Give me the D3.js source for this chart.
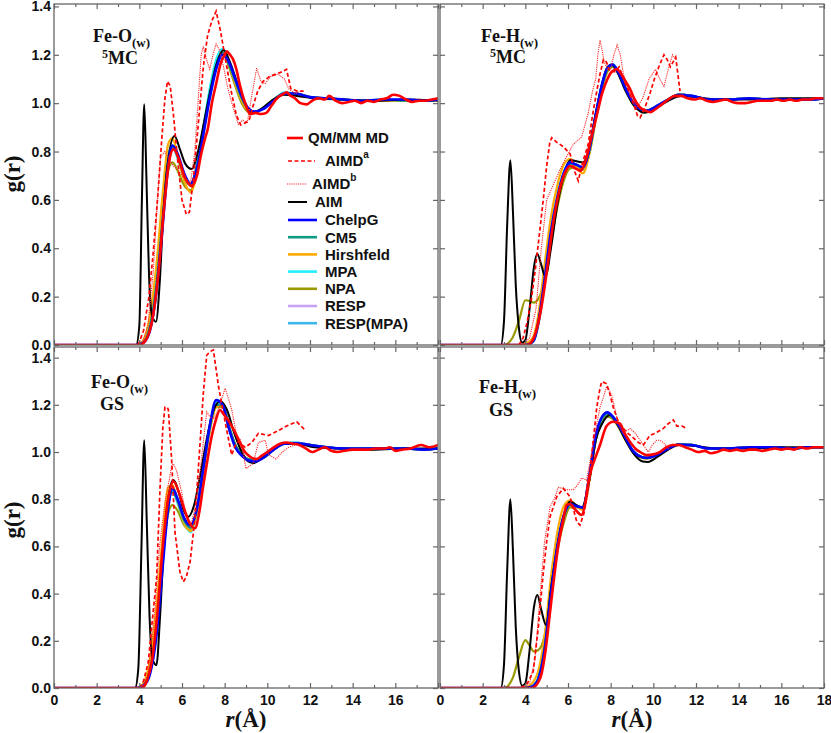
<!DOCTYPE html>
<html>
<head>
<meta charset="utf-8">
<script src="https://cdn.jsdelivr.net/npm/d3@7"></script>
<style>
  body { margin: 0; background: #fff; }
</style>
</head>
<body>
<div id="chart"></div>
<script>
// ---- data ----
var seriesNames = ["QM/MM MD", "AIMD", "AIMD", "AIM", "ChelpG", "CM5", "Hirshfeld", "MPA", "NPA", "RESP", "RESP(MPA)"];
var chargeNames = ["ChelpG", "CM5", "Hirshfeld", "MPA", "NPA", "RESP", "RESP(MPA)"];
var xTicks = [0, 2, 4, 6, 8, 10, 12, 14, 16, 18];
var yTicks = [0, 0.2, 0.4, 0.6, 0.8, 1.0, 1.2, 1.4];

// r grids shared by the charge-model curves
var gridO = [0, 3.9, 4.2, 4.5, 4.8, 5.1, 5.35, 5.55, 5.8, 6.1, 6.4, 6.7, 7.0, 7.3, 7.6, 7.9, 8.2, 8.5, 8.8, 9.1, 9.4, 9.8, 10.3, 10.8, 11.3, 12.0, 12.8, 13.6, 14.5, 15.5, 16.5, 17.3, 18];
var gridH = [0, 3.0, 3.4, 3.7, 4.0, 4.2, 4.4, 4.6, 4.9, 5.2, 5.5, 5.8, 6.1, 6.4, 6.7, 7.0, 7.3, 7.6, 7.85, 8.1, 8.4, 8.7, 9.0, 9.3, 9.7, 10.1, 10.6, 11.2, 11.8, 12.6, 13.5, 14.5, 15.5, 16.5, 17.3, 18];

// Fe-O(w) 5MC
var chargeA = [
  [0, 0, 0.01, 0.06, 0.22, 0.5, 0.74, 0.825, 0.79, 0.71, 0.668, 0.73, 0.87, 1.02, 1.14, 1.2, 1.17, 1.1, 1.03, 0.98, 0.965, 0.975, 1.01, 1.04, 1.04, 1.025, 1.02, 1.015, 1.01, 1.015, 1.015, 1.01, 1.015],
  [0, 0, 0.012, 0.08, 0.25, 0.53, 0.755, 0.82, 0.78, 0.7, 0.665, 0.74, 0.89, 1.04, 1.16, 1.21, 1.16, 1.09, 1.02, 0.975, 0.965, 0.98, 1.015, 1.04, 1.04, 1.025, 1.02, 1.015, 1.01, 1.015, 1.01, 1.01, 1.015],
  [0, 0, 0.02, 0.12, 0.33, 0.63, 0.83, 0.855, 0.78, 0.68, 0.632, 0.71, 0.87, 1.03, 1.15, 1.21, 1.16, 1.08, 1.01, 0.97, 0.965, 0.98, 1.015, 1.04, 1.04, 1.025, 1.02, 1.015, 1.01, 1.01, 1.01, 1.01, 1.015],
  [0, 0, 0.015, 0.1, 0.28, 0.57, 0.78, 0.82, 0.77, 0.69, 0.66, 0.745, 0.9, 1.06, 1.18, 1.225, 1.17, 1.09, 1.02, 0.975, 0.965, 0.98, 1.015, 1.045, 1.04, 1.025, 1.02, 1.015, 1.01, 1.015, 1.01, 1.01, 1.015],
  [0, 0, 0.02, 0.11, 0.3, 0.56, 0.72, 0.755, 0.72, 0.66, 0.64, 0.72, 0.88, 1.05, 1.17, 1.21, 1.15, 1.07, 1.0, 0.965, 0.96, 0.98, 1.015, 1.04, 1.04, 1.025, 1.02, 1.015, 1.01, 1.01, 1.01, 1.01, 1.015],
  [0, 0, 0.01, 0.08, 0.25, 0.53, 0.75, 0.815, 0.78, 0.7, 0.665, 0.74, 0.885, 1.035, 1.155, 1.21, 1.165, 1.09, 1.02, 0.975, 0.965, 0.98, 1.015, 1.04, 1.04, 1.025, 1.02, 1.015, 1.01, 1.015, 1.01, 1.01, 1.015],
  [0, 0, 0.012, 0.09, 0.27, 0.55, 0.77, 0.825, 0.785, 0.7, 0.665, 0.745, 0.895, 1.045, 1.165, 1.215, 1.165, 1.09, 1.02, 0.975, 0.965, 0.98, 1.015, 1.04, 1.04, 1.025, 1.02, 1.015, 1.01, 1.015, 1.01, 1.01, 1.015]
];
var qmmmA = [[0,0],[4.0,0],[4.3,0.02],[4.6,0.1],[4.9,0.3],[5.15,0.56],[5.4,0.76],[5.6,0.81],[5.85,0.77],[6.1,0.7],[6.45,0.658],[6.7,0.7],[6.9,0.79],[7.1,0.86],[7.2,0.89],[7.4,1.0],[7.6,1.08],[7.8,1.16],[8.0,1.2],[8.1,1.214],[8.25,1.2],[8.4,1.18],[8.55,1.14],[8.7,1.08],[8.85,1.03],[9.0,0.99],[9.2,0.954],[9.45,0.96],[9.7,0.955],[9.95,0.96],[10.2,0.99],[10.45,1.02],[10.7,1.035],[10.9,1.045],[11.1,1.03],[11.3,1.02],[11.55,1.0],[11.85,0.995],[12.1,1.01],[12.4,1.02],[12.7,1.015],[12.9,1.03],[13.2,1.01],[13.5,1.0],[13.8,1.005],[14.1,1.01],[14.4,1.0],[14.7,1.01],[15.0,1.005],[15.3,1.015],[15.6,1.02],[15.9,1.035],[16.2,1.03],[16.5,1.015],[16.8,1.005],[17.1,1.01],[17.4,1.01],[17.7,1.015],[18,1.02]];
var aimdaA = [[3.95,0],[4.2,0.06],[4.45,0.2],[4.65,0.38],[4.85,0.6],[5.05,0.85],[5.2,1.02],[5.32,1.09],[5.45,1.07],[5.6,0.95],[5.8,0.76],[6.0,0.6],[6.2,0.54],[6.35,0.55],[6.55,0.7],[6.8,0.95],[7.0,1.15],[7.2,1.28],[7.4,1.34],[7.6,1.38],[7.8,1.3],[8.0,1.2],[8.2,1.1],[8.35,1.03],[8.55,0.95],[8.75,0.91],[9.0,0.92],[9.15,0.93],[9.3,0.98],[9.55,1.05],[9.8,1.09],[10.1,1.11],[10.4,1.12],[10.7,1.13],[10.9,1.14],[11.1,1.06],[11.4,1.05],[11.7,1.05]];
var aimdbA = [[4.1,0],[4.4,0.08],[4.65,0.3],[4.85,0.6],[5.0,0.78],[5.2,0.8],[5.45,0.76],[5.6,0.74],[5.85,0.72],[6.1,0.69],[6.4,0.67],[6.6,0.8],[6.75,1.0],[6.9,1.2],[7.0,1.235],[7.15,1.18],[7.3,1.14],[7.45,1.2],[7.6,1.245],[7.75,1.22],[7.95,1.15],[8.15,1.06],[8.4,0.98],[8.64,0.913],[8.85,0.93],[9.06,0.92],[9.25,1.02],[9.5,1.145],[9.7,1.09],[9.9,1.08],[10.15,1.11],[10.5,1.12],[10.8,1.1],[11.0,1.06],[11.3,1.04],[11.6,1.05]];
var aimA = [[0,0],[3.85,0],[4.0,0.08],[4.12,0.6],[4.23,0.995],[4.33,0.7],[4.45,0.3],[4.6,0.12],[4.78,0.096],[4.95,0.25],[5.1,0.5],[5.3,0.73],[5.65,0.864],[5.9,0.81],[6.15,0.75],[6.45,0.728],[6.75,0.8],[7.05,0.93],[7.35,1.06],[7.65,1.17],[7.95,1.22],[8.25,1.17],[8.6,1.08],[8.95,1.0],[9.3,0.96],[9.7,0.975],[10.2,1.01],[10.8,1.035],[11.4,1.03],[12.2,1.02],[13.5,1.015],[15,1.01],[16.5,1.015],[18,1.01]];

// Fe-H(w) 5MC
var chargeB = [
  [0, 0, 0, 0, 0, 0.005, 0.02, 0.09, 0.27, 0.47, 0.61, 0.71, 0.755, 0.745, 0.735, 0.81, 0.95, 1.08, 1.145, 1.16, 1.12, 1.06, 1.01, 0.98, 0.968, 0.985, 1.01, 1.035, 1.03, 1.015, 1.015, 1.02, 1.015, 1.015, 1.015, 1.02],
  [0, 0, 0, 0, 0, 0.004, 0.018, 0.08, 0.25, 0.45, 0.6, 0.7, 0.75, 0.745, 0.735, 0.8, 0.94, 1.07, 1.14, 1.155, 1.12, 1.06, 1.01, 0.98, 0.97, 0.985, 1.01, 1.035, 1.03, 1.015, 1.015, 1.02, 1.015, 1.015, 1.015, 1.02],
  [0, 0, 0, 0, 0.005, 0.015, 0.04, 0.12, 0.33, 0.53, 0.66, 0.745, 0.77, 0.735, 0.71, 0.79, 0.94, 1.07, 1.14, 1.155, 1.12, 1.06, 1.01, 0.98, 0.97, 0.985, 1.01, 1.035, 1.03, 1.015, 1.015, 1.02, 1.015, 1.015, 1.015, 1.02],
  [0, 0, 0, 0, 0, 0.005, 0.022, 0.09, 0.27, 0.48, 0.62, 0.715, 0.755, 0.745, 0.73, 0.81, 0.95, 1.08, 1.145, 1.16, 1.12, 1.06, 1.01, 0.98, 0.968, 0.985, 1.01, 1.035, 1.03, 1.015, 1.015, 1.02, 1.015, 1.015, 1.015, 1.02],
  [0, 0, 0.03, 0.1, 0.185, 0.182, 0.175, 0.19, 0.26, 0.42, 0.57, 0.68, 0.73, 0.735, 0.725, 0.79, 0.93, 1.06, 1.13, 1.15, 1.12, 1.06, 1.0, 0.975, 0.965, 0.985, 1.01, 1.035, 1.03, 1.015, 1.015, 1.02, 1.015, 1.015, 1.015, 1.02],
  [0, 0, 0, 0, 0, 0.005, 0.02, 0.085, 0.26, 0.47, 0.61, 0.71, 0.75, 0.745, 0.735, 0.805, 0.945, 1.075, 1.14, 1.155, 1.12, 1.06, 1.01, 0.98, 0.97, 0.985, 1.01, 1.035, 1.03, 1.015, 1.015, 1.02, 1.015, 1.015, 1.015, 1.02],
  [0, 0, 0, 0, 0, 0.005, 0.02, 0.09, 0.26, 0.48, 0.615, 0.71, 0.755, 0.745, 0.735, 0.81, 0.95, 1.08, 1.145, 1.16, 1.12, 1.06, 1.01, 0.98, 0.968, 0.985, 1.01, 1.035, 1.03, 1.015, 1.015, 1.02, 1.015, 1.015, 1.015, 1.02]
];
var qmmmB = [[0,0],[4.1,0],[4.4,0.03],[4.7,0.13],[5.0,0.3],[5.3,0.5],[5.6,0.64],[5.85,0.71],[6.1,0.74],[6.35,0.73],[6.6,0.72],[6.85,0.77],[7.1,0.86],[7.35,0.95],[7.6,1.04],[7.85,1.1],[8.05,1.13],[8.28,1.14],[8.5,1.12],[8.7,1.09],[8.9,1.06],[9.1,1.02],[9.35,0.985],[9.6,0.97],[9.85,0.963],[10.1,0.975],[10.4,0.995],[10.7,1.015],[11.0,1.03],[11.3,1.03],[11.6,1.02],[11.9,1.015],[12.2,1.02],[12.5,1.01],[12.8,1.005],[13.1,1.01],[13.4,1.015],[13.7,1.005],[14.0,1.0],[14.3,1.0],[14.6,1.005],[14.9,1.01],[15.2,1.01],[15.5,1.01],[15.8,1.015],[16.1,1.01],[16.4,1.015],[16.7,1.01],[17.0,1.015],[17.3,1.015],[17.6,1.02],[18,1.02]];
var aimdaB = [[3.7,0],[3.9,0.03],[4.1,0.1],[4.3,0.2],[4.45,0.3],[4.61,0.42],[4.84,0.6],[5.0,0.74],[5.15,0.84],[5.24,0.857],[5.45,0.84],[5.78,0.82],[6.1,0.79],[6.3,0.72],[6.48,0.679],[6.7,0.76],[6.95,0.83],[7.15,0.95],[7.35,1.05],[7.5,1.12],[7.66,1.18],[7.8,1.17],[7.97,1.13],[8.2,1.13],[8.4,1.15],[8.6,1.1],[8.85,1.05],[9.06,1.0],[9.25,0.95],[9.38,0.94],[9.6,0.98],[9.84,1.04],[10.05,1.1],[10.3,1.16],[10.5,1.2],[10.65,1.18],[10.8,1.15],[11.05,1.19],[11.15,1.12],[11.25,1.05]];
var aimdbB = [[3.9,0],[4.2,0.03],[4.5,0.15],[4.75,0.4],[5.0,0.6],[5.3,0.66],[5.6,0.72],[5.94,0.78],[6.25,0.83],[6.64,0.86],[6.95,0.96],[7.15,1.05],[7.3,1.1],[7.4,1.2],[7.5,1.26],[7.6,1.22],[7.7,1.17],[7.85,1.14],[8.0,1.14],[8.15,1.2],[8.3,1.24],[8.45,1.2],[8.6,1.12],[8.8,1.06],[9.0,1.02],[9.22,0.98],[9.5,1.02],[9.8,1.1],[10.1,1.14],[10.3,1.1],[10.5,1.07],[10.7,1.14],[10.9,1.2],[11.05,1.18]];
var aimB = [[0,0],[2.85,0],[3.0,0.1],[3.15,0.5],[3.3,0.764],[3.42,0.55],[3.55,0.25],[3.7,0.07],[3.85,0.01],[4.0,0.02],[4.2,0.15],[4.4,0.32],[4.56,0.377],[4.75,0.33],[4.95,0.28],[5.2,0.4],[5.5,0.58],[5.8,0.7],[6.1,0.765],[6.4,0.76],[6.7,0.755],[7.0,0.82],[7.3,0.96],[7.6,1.08],[7.85,1.15],[8.05,1.16],[8.3,1.13],[8.7,1.05],[9.1,0.99],[9.6,0.96],[10.1,0.98],[10.7,1.01],[11.3,1.03],[12,1.025],[13,1.015],[14.5,1.015],[16,1.02],[18,1.02]];

// Fe-O(w) GS
var chargeC = [
  [0, 0, 0.01, 0.06, 0.22, 0.52, 0.76, 0.846, 0.8, 0.72, 0.69, 0.76, 0.93, 1.11, 1.22, 1.2, 1.1, 1.02, 0.985, 0.965, 0.96, 0.975, 1.01, 1.035, 1.037, 1.03, 1.02, 1.015, 1.015, 1.015, 1.015, 1.01, 1.015],
  [0, 0, 0.012, 0.08, 0.25, 0.55, 0.77, 0.83, 0.79, 0.71, 0.68, 0.76, 0.93, 1.1, 1.2, 1.2, 1.11, 1.03, 0.99, 0.97, 0.965, 0.975, 1.01, 1.035, 1.037, 1.03, 1.02, 1.015, 1.015, 1.015, 1.015, 1.01, 1.015],
  [0, 0, 0.02, 0.12, 0.34, 0.65, 0.85, 0.86, 0.79, 0.7, 0.665, 0.75, 0.92, 1.09, 1.19, 1.2, 1.11, 1.03, 0.99, 0.97, 0.965, 0.975, 1.01, 1.035, 1.037, 1.03, 1.02, 1.015, 1.015, 1.015, 1.015, 1.01, 1.015],
  [0, 0, 0.015, 0.1, 0.29, 0.59, 0.8, 0.835, 0.78, 0.7, 0.66, 0.75, 0.93, 1.1, 1.21, 1.2, 1.11, 1.03, 0.99, 0.97, 0.965, 0.975, 1.01, 1.035, 1.04, 1.03, 1.02, 1.015, 1.015, 1.015, 1.015, 1.01, 1.015],
  [0, 0, 0.02, 0.11, 0.3, 0.56, 0.74, 0.775, 0.75, 0.69, 0.67, 0.75, 0.92, 1.09, 1.19, 1.19, 1.1, 1.03, 0.99, 0.97, 0.965, 0.975, 1.01, 1.035, 1.037, 1.03, 1.02, 1.015, 1.015, 1.015, 1.015, 1.01, 1.015],
  [0, 0, 0.01, 0.08, 0.25, 0.55, 0.77, 0.84, 0.795, 0.715, 0.685, 0.76, 0.93, 1.1, 1.21, 1.2, 1.1, 1.02, 0.985, 0.965, 0.96, 0.975, 1.01, 1.035, 1.04, 1.03, 1.02, 1.015, 1.015, 1.015, 1.015, 1.01, 1.015],
  [0, 0, 0.012, 0.09, 0.27, 0.57, 0.78, 0.84, 0.795, 0.715, 0.68, 0.76, 0.93, 1.1, 1.21, 1.2, 1.1, 1.02, 0.985, 0.965, 0.96, 0.975, 1.01, 1.035, 1.04, 1.03, 1.02, 1.015, 1.015, 1.015, 1.015, 1.01, 1.015]
];
var qmmmC = [[0,0],[4.1,0],[4.35,0.03],[4.6,0.12],[4.85,0.32],[5.1,0.6],[5.35,0.8],[5.6,0.875],[5.85,0.83],[6.1,0.76],[6.35,0.7],[6.61,0.677],[6.8,0.74],[7.0,0.86],[7.2,0.97],[7.4,1.07],[7.6,1.14],[7.78,1.178],[7.95,1.16],[8.2,1.13],[8.45,1.09],[8.72,1.04],[8.95,1.0],[9.19,0.98],[9.5,0.97],[9.75,0.985],[10.0,1.0],[10.3,1.02],[10.6,1.035],[10.9,1.04],[11.2,1.035],[11.5,1.03],[11.8,1.015],[12.1,1.0],[12.4,1.01],[12.7,1.02],[13.0,1.005],[13.3,1.0],[13.6,1.005],[14.0,1.01],[14.4,1.01],[14.7,1.01],[15.1,1.015],[15.5,1.015],[15.75,1.02],[16.0,1.005],[16.3,1.01],[16.7,1.015],[17.2,1.03],[17.6,1.02],[18,1.03]];
var aimdaC = [[4.0,0],[4.2,0.03],[4.42,0.11],[4.6,0.28],[4.81,0.466],[4.97,0.847],[5.1,1.1],[5.2,1.19],[5.3,1.19],[5.36,1.18],[5.52,0.96],[5.67,0.662],[5.9,0.493],[6.06,0.45],[6.2,0.47],[6.38,0.535],[6.61,0.72],[6.84,1.03],[7.0,1.25],[7.16,1.41],[7.3,1.425],[7.47,1.432],[7.6,1.35],[7.7,1.284],[8.02,1.128],[8.33,0.987],[8.5,1.03],[8.64,1.044],[8.96,1.02],[9.27,1.04],[9.58,1.079],[10.05,1.07],[10.5,1.09],[10.83,1.107],[11.15,1.12],[11.38,1.128],[11.77,1.093]];
var aimdbC = [[4.1,0],[4.4,0.05],[4.7,0.3],[4.95,0.6],[5.2,0.79],[5.4,0.88],[5.52,0.945],[5.6,0.95],[5.75,0.92],[5.98,0.83],[6.22,0.72],[6.45,0.7],[6.6,0.76],[6.77,0.86],[6.95,1.0],[7.16,1.17],[7.3,1.15],[7.47,1.14],[7.65,1.17],[7.78,1.2],[8.02,1.27],[8.2,1.22],[8.33,1.18],[8.56,1.07],[8.75,1.05],[9.0,0.93],[9.33,0.95],[9.58,1.04],[9.9,1.05],[10.05,0.99],[10.4,0.97],[10.7,1.0],[11.0,1.02],[11.3,1.03],[11.6,1.03]];
var aimC = [[0,0],[3.8,0],[3.95,0.08],[4.1,0.6],[4.23,1.05],[4.35,0.7],[4.48,0.3],[4.62,0.12],[4.8,0.097],[4.97,0.3],[5.15,0.6],[5.4,0.83],[5.6,0.881],[5.85,0.83],[6.05,0.76],[6.3,0.726],[6.55,0.77],[6.85,0.9],[7.15,1.05],[7.45,1.17],[7.8,1.215],[8.1,1.18],[8.45,1.08],[8.8,1.0],[9.1,0.96],[9.35,0.953],[9.7,0.97],[10.2,1.01],[10.8,1.035],[11.4,1.035],[12.2,1.02],[13.5,1.015],[15,1.01],[16.5,1.015],[18,1.015]];

// Fe-H(w) GS
var chargeD = [
  [0, 0, 0, 0, 0, 0.003, 0.01, 0.035, 0.16, 0.4, 0.6, 0.73, 0.78, 0.77, 0.765, 0.9, 1.07, 1.15, 1.168, 1.15, 1.11, 1.06, 1.01, 0.985, 0.975, 0.985, 1.01, 1.032, 1.03, 1.015, 1.015, 1.02, 1.02, 1.015, 1.02, 1.02],
  [0, 0, 0, 0, 0, 0.003, 0.012, 0.04, 0.17, 0.41, 0.6, 0.725, 0.775, 0.77, 0.765, 0.89, 1.05, 1.14, 1.16, 1.145, 1.11, 1.06, 1.01, 0.985, 0.975, 0.985, 1.01, 1.032, 1.03, 1.015, 1.015, 1.02, 1.02, 1.015, 1.02, 1.02],
  [0, 0, 0, 0, 0.003, 0.01, 0.03, 0.07, 0.22, 0.47, 0.66, 0.77, 0.795, 0.77, 0.755, 0.88, 1.05, 1.14, 1.16, 1.145, 1.11, 1.06, 1.01, 0.985, 0.975, 0.985, 1.01, 1.032, 1.03, 1.015, 1.015, 1.02, 1.02, 1.015, 1.02, 1.02],
  [0, 0, 0, 0, 0, 0.003, 0.012, 0.04, 0.18, 0.42, 0.61, 0.735, 0.78, 0.77, 0.765, 0.9, 1.065, 1.145, 1.165, 1.15, 1.11, 1.06, 1.01, 0.985, 0.975, 0.985, 1.01, 1.032, 1.03, 1.015, 1.015, 1.02, 1.02, 1.015, 1.02, 1.02],
  [0, 0, 0.04, 0.13, 0.203, 0.18, 0.155, 0.16, 0.22, 0.4, 0.58, 0.7, 0.765, 0.765, 0.76, 0.88, 1.05, 1.13, 1.15, 1.14, 1.1, 1.05, 1.005, 0.98, 0.972, 0.985, 1.01, 1.032, 1.03, 1.015, 1.015, 1.02, 1.02, 1.015, 1.02, 1.02],
  [0, 0, 0, 0, 0, 0.003, 0.01, 0.035, 0.17, 0.41, 0.6, 0.73, 0.78, 0.77, 0.765, 0.895, 1.065, 1.145, 1.165, 1.15, 1.11, 1.06, 1.01, 0.985, 0.975, 0.985, 1.01, 1.032, 1.03, 1.015, 1.015, 1.02, 1.02, 1.015, 1.02, 1.02],
  [0, 0, 0, 0, 0, 0.003, 0.012, 0.04, 0.17, 0.41, 0.6, 0.73, 0.78, 0.77, 0.765, 0.9, 1.065, 1.145, 1.165, 1.15, 1.11, 1.06, 1.01, 0.985, 0.975, 0.985, 1.01, 1.032, 1.03, 1.015, 1.015, 1.02, 1.02, 1.015, 1.02, 1.02]
];
var qmmmD = [[0,0],[4.3,0],[4.69,0.04],[4.95,0.16],[5.16,0.323],[5.35,0.47],[5.55,0.606],[5.75,0.7],[5.94,0.775],[6.09,0.78],[6.3,0.76],[6.64,0.733],[6.8,0.78],[6.95,0.87],[7.1,0.93],[7.27,0.973],[7.5,1.03],[7.81,1.11],[8.12,1.128],[8.44,1.12],[8.65,1.08],[8.9,1.044],[9.15,1.015],[9.38,1.0],[9.69,0.987],[10.0,0.99],[10.3,1.0],[10.6,1.02],[10.9,1.03],[11.2,1.03],[11.5,1.02],[11.8,1.01],[12.1,1.0],[12.4,1.005],[12.7,0.995],[13.0,1.0],[13.3,1.01],[13.6,1.005],[13.9,1.01],[14.2,1.005],[14.5,1.01],[14.8,1.01],[15.1,1.005],[15.4,1.01],[15.7,1.015],[16.0,1.01],[16.3,1.015],[16.6,1.01],[16.9,1.02],[17.2,1.015],[17.5,1.02],[18,1.02]];
var aimdaD = [[3.8,0],[4.1,0.02],[4.37,0.07],[4.6,0.25],[4.84,0.486],[5.0,0.62],[5.16,0.726],[5.47,0.81],[5.78,0.846],[6.1,0.81],[6.41,0.705],[6.56,0.69],[6.75,0.74],[6.95,0.84],[7.15,1.02],[7.35,1.19],[7.5,1.27],[7.58,1.298],[7.8,1.29],[7.95,1.25],[8.12,1.19],[8.35,1.13],[8.59,1.1],[8.8,1.08],[9.06,1.06],[9.3,1.04],[9.53,1.03],[9.84,1.07],[10.1,1.08],[10.47,1.1],[10.7,1.12],[10.94,1.136],[11.1,1.11],[11.35,1.11],[11.56,1.1]];
var aimdbD = [[3.9,0],[4.2,0.02],[4.45,0.12],[4.7,0.4],[4.9,0.62],[5.16,0.768],[5.35,0.8],[5.55,0.85],[5.78,0.845],[6.0,0.84],[6.25,0.84],[6.45,0.86],[6.64,0.89],[6.87,0.88],[7.03,0.96],[7.19,1.04],[7.35,1.12],[7.5,1.19],[7.65,1.23],[7.81,1.277],[7.95,1.26],[8.05,1.24],[8.28,1.15],[8.45,1.1],[8.59,1.08],[8.75,1.09],[8.9,1.1],[9.15,1.08],[9.38,1.05],[9.6,1.02],[9.77,1.0],[9.95,1.03],[10.16,1.05],[10.3,1.05],[10.47,1.04],[10.65,1.02],[10.8,1.01]];
var aimD = [[0,0],[2.85,0],[3.0,0.1],[3.15,0.5],[3.3,0.8],[3.42,0.58],[3.55,0.26],[3.7,0.07],[3.85,0.01],[4.0,0.02],[4.2,0.16],[4.4,0.34],[4.56,0.394],[4.75,0.33],[4.97,0.267],[5.2,0.42],[5.5,0.6],[5.8,0.73],[6.1,0.79],[6.4,0.775],[6.64,0.765],[7.0,0.88],[7.3,1.05],[7.6,1.12],[7.97,1.157],[8.3,1.12],[8.7,1.05],[9.1,0.99],[9.5,0.96],[9.75,0.958],[10.2,0.98],[10.7,1.01],[11.2,1.03],[12,1.025],[13,1.015],[14.5,1.015],[16,1.02],[18,1.02]];

// ---- styles ----
var sans = "'Liberation Sans', Arial, sans-serif";
var serif = "'Liberation Serif', 'Times New Roman', serif";
var chargeColors = ["#0000ff", "#0f9a82", "#ffaa00", "#22eeff", "#999900", "#c6a3f0", "#3cb8ec"];
var chargeWidths = [2.6, 2.2, 2.2, 2.2, 2.2, 2.2, 2.2];
var drawOrder = [6, 5, 4, 3, 2, 1];  // ChelpG drawn later, over AIM

var svg = d3.select("#chart").append("svg")
    .attr("width", 831)
    .attr("height", 733);

var panels = [
    { id: "A", left: 54, right: 438, top: 4, bottom: 345, yMax: 1.41, grid: gridO, charge: chargeA,
      qmmm: qmmmA, aimda: aimdaA, aimdb: aimdbA, aim: aimA, pair: "O", state: "5MC",
      lx: 93, ly: 42, sx: 102, sy: 64, yLabels: true, xLabels: null },
    { id: "B", left: 440, right: 824, top: 4, bottom: 345, yMax: 1.41, grid: gridH, charge: chargeB,
      qmmm: qmmmB, aimda: aimdaB, aimdb: aimdbB, aim: aimB, pair: "H", state: "5MC",
      lx: 481, ly: 42, sx: 490, sy: 63, yLabels: false, xLabels: null },
    { id: "C", left: 54, right: 438, top: 347, bottom: 688, yMax: 1.445, grid: gridO, charge: chargeC,
      qmmm: qmmmC, aimda: aimdaC, aimdb: aimdbC, aim: aimC, pair: "O", state: "GS",
      lx: 91, ly: 388, sx: 100, sy: 410, yLabels: true, xLabels: xTicks.slice(0, 9) },
    { id: "D", left: 440, right: 824, top: 347, bottom: 688, yMax: 1.445, grid: gridH, charge: chargeD,
      qmmm: qmmmD, aimda: aimdaD, aimdb: aimdbD, aim: aimD, pair: "H", state: "GS",
      lx: 479, ly: 393, sx: 489, sy: 416, yLabels: false, xLabels: xTicks }
];

panels.forEach(function(p) {
    var x = d3.scaleLinear().domain([0, 18]).range([p.left, p.right]);
    var y = d3.scaleLinear().domain([0, p.yMax]).range([p.bottom, p.top]);

    var g = svg.append("g").attr("class", "panel-" + p.id);

    g.append("clipPath").attr("id", "clip-" + p.id)
        .append("rect")
        .attr("x", p.left).attr("y", p.top)
        .attr("width", p.right - p.left).attr("height", p.bottom - p.top);

    var line = d3.line()
        .x(function(d) { return x(d[0]); })
        .y(function(d) { return y(d[1]); })
        .curve(d3.curveMonotoneX);
    var jagged = d3.line()
        .x(function(d) { return x(d[0]); })
        .y(function(d) { return y(d[1]); });

    var plot = g.append("g").attr("clip-path", "url(#clip-" + p.id + ")");

    // charge-model curves (not ChelpG yet)
    drawOrder.forEach(function(i) {
        plot.append("path")
            .datum(d3.zip(p.grid, p.charge[i]))
            .attr("fill", "none")
            .attr("stroke", chargeColors[i])
            .attr("stroke-width", chargeWidths[i])
            .attr("d", line);
    });

    // AIM
    plot.append("path").datum(p.aim)
        .attr("fill", "none").attr("stroke", "#000").attr("stroke-width", 2)
        .attr("d", line);

    // ChelpG
    plot.append("path").datum(d3.zip(p.grid, p.charge[0]))
        .attr("fill", "none").attr("stroke", chargeColors[0]).attr("stroke-width", chargeWidths[0])
        .attr("d", line);

    // AIMD b (dotted), AIMD a (dashed)
    plot.append("path").datum(p.aimdb)
        .attr("fill", "none").attr("stroke", "#ff2a2a").attr("stroke-width", 1.1)
        .attr("stroke-dasharray", "1.2,1")
        .attr("d", jagged);
    plot.append("path").datum(p.aimda)
        .attr("fill", "none").attr("stroke", "#ff0000").attr("stroke-width", 1.7)
        .attr("stroke-dasharray", "4,2.5")
        .attr("d", jagged);

    // QM/MM MD
    plot.append("path").datum(p.qmmm)
        .attr("fill", "none").attr("stroke", "#ff0000").attr("stroke-width", 2.6)
        .attr("stroke-linejoin", "round")
        .attr("d", line);

    // frame
    g.append("rect")
        .attr("x", p.left).attr("y", p.top)
        .attr("width", p.right - p.left).attr("height", p.bottom - p.top)
        .attr("fill", "none").attr("stroke", "#666").attr("stroke-width", 1.3);

    // x ticks (minor every 1, major every 2)
    var minor = d3.range(1, 18, 2);
    [["bottom", p.bottom, d3.axisBottom], ["top", p.top, d3.axisTop]].forEach(function(s) {
        g.append("g")
            .attr("transform", "translate(0," + s[1] + ")")
            .call(s[2](x).tickValues(xTicks).tickSize(-5).tickPadding(7)
                .tickFormat(s[0] == "bottom" && p.xLabels ? function(d) { return p.xLabels.indexOf(d) >= 0 ? d : ""; } : ""));
        g.append("g")
            .attr("transform", "translate(0," + s[1] + ")")
            .call(s[2](x).tickValues(minor).tickSize(-3).tickFormat(""));
    });

    // y ticks
    g.append("g")
        .attr("transform", "translate(" + p.left + ",0)")
        .call(d3.axisLeft(y).tickValues(yTicks).tickSize(-5).tickPadding(3)
            .tickFormat(p.yLabels ? d3.format(".1f") : ""));
    g.append("g")
        .attr("transform", "translate(" + p.right + ",0)")
        .call(d3.axisRight(y).tickValues(yTicks).tickSize(-5).tickFormat(""));

    g.selectAll(".domain").remove();
    g.selectAll(".tick line").attr("stroke", "#666").attr("stroke-width", 1.2);
    g.selectAll(".tick text")
        .style("font-family", sans)
        .style("font-weight", "bold")
        .style("font-size", "14px")
        .attr("fill", "#111");

    // panel label
    var lab = g.append("text")
        .attr("x", p.lx).attr("y", p.ly)
        .style("font-family", serif)
        .style("font-weight", "bold").style("font-size", "18px").attr("fill", "#111");
    lab.append("tspan").text("Fe-" + p.pair);
    lab.append("tspan").style("font-size", "13px").attr("dy", 5).text("(w)");

    var st = g.append("text")
        .attr("x", p.sx).attr("y", p.sy)
        .style("font-family", serif)
        .style("font-weight", "bold").style("font-size", "18px").attr("fill", "#111");
    if (p.state == "5MC") {
        st.append("tspan").style("font-size", "12px").attr("dy", -6).text("5");
        st.append("tspan").attr("dy", 6).text("MC");
    } else {
        st.text(p.state);
    }
});

// y-axis titles
[174, 520].forEach(function(cy) {
    svg.append("text")
        .attr("transform", "translate(20," + cy + ") rotate(-90)")
        .attr("text-anchor", "middle")
        .style("font-family", serif)
        .style("font-weight", "bold").style("font-size", "23px").attr("fill", "#111")
        .text("g(r)");
});

// x-axis titles
[246, 632].forEach(function(cx) {
    var t = svg.append("text")
        .attr("x", cx).attr("y", 727)
        .attr("text-anchor", "middle")
        .style("font-family", serif)
        .style("font-weight", "bold").style("font-size", "23px").attr("fill", "#111");
    t.append("tspan").style("font-style", "italic").text("r");
    t.append("tspan").text("(Å)");
});

// legend (top-left panel)
var legendRows = [
    { y: 138, x0: 287, x1: 303, tx: 308, color: "#ff0000", w: 2.6, dash: null, sup: "" },
    { y: 161, x0: 288, x1: 315, tx: 325, color: "#ff0000", w: 1.7, dash: "4,2.5", sup: "a" },
    { y: 184, x0: 287, x1: 307, tx: 312, color: "#ff2a2a", w: 1.1, dash: "1.2,1", sup: "b" },
    { y: 202, x0: 288, x1: 307, tx: 315, color: "#000", w: 2, dash: null, sup: "" }
];
chargeNames.forEach(function(n, i) {
    legendRows.push({ y: 220 + i * 17.2, x0: 288, x1: 317, tx: 325, color: chargeColors[i], w: 2.6, dash: null, sup: "" });
});

var legend = svg.append("g").attr("class", "legend");
legendRows.forEach(function(r, i) {
    legend.append("line")
        .attr("x1", r.x0).attr("x2", r.x1)
        .attr("y1", r.y).attr("y2", r.y)
        .attr("stroke", r.color).attr("stroke-width", r.w)
        .attr("stroke-dasharray", r.dash);
    var t = legend.append("text")
        .attr("x", r.tx).attr("y", r.y).attr("dy", "0.36em")
        .style("font-family", sans)
        .style("font-weight", "bold").style("font-size", "15px").attr("fill", "#111");
    t.append("tspan").text(seriesNames[i]);
    if (r.sup) {
        t.append("tspan").style("font-size", "10px").attr("dy", -8).text(r.sup);
    }
});
</script>
</body>
</html>
